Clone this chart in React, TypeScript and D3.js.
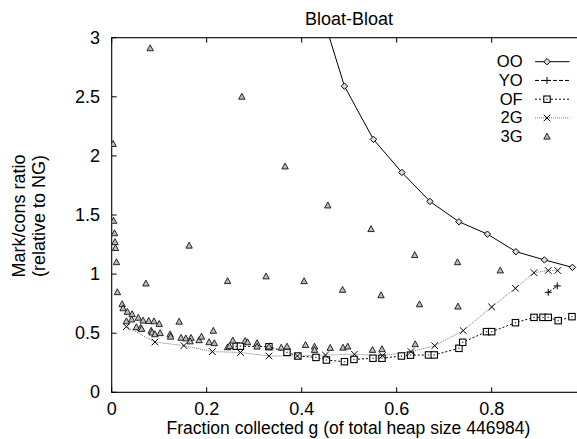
import React from 'react';
import * as d3 from 'd3';

const W = 577;
const H = 439;

const xTicks = [0, 0.2, 0.4, 0.6, 0.8, 1];
const xTickLabels = [0, 0.2, 0.4, 0.6, 0.8];
const yTicks = [0, 0.5, 1, 1.5, 2, 2.5, 3];
const seriesNames = ['OO', 'YO', 'OF', '2G', '3G'];
const title = 'Bloat-Bloat';
const xLabel = 'Fraction collected g (of total heap size 446984)';
const yLabel1 = 'Mark/cons ratio';
const yLabel2 = '(relative to NG)';

const ooX = [0.43, 0.49, 0.551, 0.611, 0.67, 0.731, 0.791, 0.851, 0.911, 0.97];
const ooY = [3.37, 2.59, 2.14, 1.86, 1.615, 1.443, 1.338, 1.19, 1.12, 1.057];

const yoX = [0.919, 0.938];
const yoY = [0.846, 0.9];

const ofX = [0.262, 0.271, 0.331, 0.369, 0.392, 0.43, 0.452, 0.49, 0.51, 0.55, 0.569, 0.61, 0.629, 0.667, 0.679, 0.731, 0.739, 0.789, 0.8, 0.85, 0.889, 0.908, 0.919, 0.94, 0.969];
const ofY = [0.39, 0.39, 0.386, 0.338, 0.307, 0.295, 0.273, 0.259, 0.278, 0.288, 0.288, 0.307, 0.314, 0.316, 0.316, 0.372, 0.423, 0.513, 0.513, 0.589, 0.634, 0.634, 0.634, 0.606, 0.64];

const g2X = [0.031, 0.091, 0.152, 0.212, 0.271, 0.331, 0.391, 0.45, 0.511, 0.57, 0.63, 0.68, 0.74, 0.8, 0.85, 0.889, 0.919, 0.939];
const g2Y = [0.555, 0.425, 0.395, 0.344, 0.337, 0.307, 0.307, 0.315, 0.322, 0.31, 0.344, 0.394, 0.522, 0.722, 0.88, 1.012, 1.03, 1.03];

const g3X = [
  0.003, 0.004, 0.006, 0.007, 0.008, 0.01, 0.012,
  0.022, 0.024, 0.033, 0.043, 0.056, 0.066, 0.078, 0.089, 0.1,
  0.031, 0.042, 0.052, 0.061, 0.063, 0.083, 0.085, 0.091, 0.102, 0.123, 0.124, 0.142, 0.146, 0.156, 0.167, 0.165, 0.184, 0.189, 0.205, 0.214, 0.216,
  0.072, 0.081, 0.163, 0.244, 0.274, 0.325, 0.365, 0.405, 0.455, 0.486, 0.546, 0.567, 0.638, 0.648, 0.728, 0.729, 0.818,
  0.244, 0.248, 0.255, 0.281, 0.286, 0.306, 0.306, 0.331, 0.357, 0.369, 0.408, 0.427, 0.427, 0.46, 0.487, 0.497, 0.549, 0.569, 0.639,
];
const g3Y = [
  2.1, 1.45, 1.345, 1.27, 1.22, 1.1, 0.846,
  0.745, 0.71, 0.68, 0.66, 0.63, 0.606, 0.603, 0.6, 0.578,
  0.6, 0.615, 0.55, 0.545, 0.535, 0.52, 0.505, 0.49, 0.5, 0.49, 0.47, 0.597, 0.46, 0.455, 0.46, 0.43, 0.44, 0.47, 0.423, 0.52, 0.415,
  0.92, 2.91, 1.24, 0.94, 2.5, 0.98, 1.91, 0.94, 1.58, 0.866, 1.38, 0.82, 1.16, 0.744, 1.1, 0.725, 1.03,
  0.38, 0.39, 0.437, 0.434, 0.423, 0.415, 0.386, 0.386, 0.377, 0.386, 0.4, 0.386, 0.358, 0.375, 0.377, 0.386, 0.358, 0.364, 0.406,
];

const FONT = '"Liberation Sans", Arial, Helvetica, sans-serif';

type Pt = [number, number];
const zip = (xs: number[], ys: number[]): Pt[] => xs.map((x, i) => [x, ys[i]]);

function Marker({ kind, x, y }: { kind: string; x: number; y: number }) {
  if (kind === 'diamond') {
    const r = 3.2;
    return <path d={`M${x},${y - r}L${x + r},${y}L${x},${y + r}L${x - r},${y}Z`} fill="#ddd" stroke="#000" strokeWidth={1} />;
  }
  if (kind === 'plus') {
    const r = 3.5;
    return <path d={`M${x - r},${y}H${x + r}M${x},${y - r}V${y + r}`} stroke="#000" strokeWidth={1} fill="none" />;
  }
  if (kind === 'square') {
    const r = 3.2;
    return (
      <g>
        <rect x={x - r} y={y - r} width={2 * r} height={2 * r} fill="#fff" stroke="#000" strokeWidth={1.1} />
        <rect x={x - 0.7} y={y - 0.7} width={1.4} height={1.4} fill="#555" />
      </g>
    );
  }
  if (kind === 'cross') {
    const r = 3.3;
    return <path d={`M${x - r},${y - r}L${x + r},${y + r}M${x - r},${y + r}L${x + r},${y - r}`} stroke="#000" strokeWidth={1} fill="none" />;
  }
  const r = 3.2;
  return <path d={`M${x},${y - 3.5}L${x + r},${y + 2.4}L${x - r},${y + 2.4}Z`} fill="#bbb" stroke="#111" strokeWidth={0.9} />;
}

export default function App() {
  const left = 111.7;
  const right = 586.7;
  const top = 37.7;
  const bottom = 392.3;
  const x = d3.scaleLinear().domain([0, 1]).range([left, right]);
  const y = d3.scaleLinear().domain([0, 3]).range([bottom, top]);
  const line = d3.line<Pt>().x((d) => x(d[0])).y((d) => y(d[1]));

  const series = [
    { name: seriesNames[0], pts: zip(ooX, ooY), marker: 'diamond', dash: undefined as string | undefined, color: '#000', lw: 1 },
    { name: seriesNames[1], pts: zip(yoX, yoY), marker: 'plus', dash: '4,2', color: '#000', lw: 1 },
    { name: seriesNames[2], pts: zip(ofX, ofY), marker: 'square', dash: '2,2', color: '#000', lw: 1 },
    { name: seriesNames[3], pts: zip(g2X, g2Y), marker: 'cross', dash: '1,1', color: '#777', lw: 1 },
    { name: seriesNames[4], pts: zip(g3X, g3Y), marker: 'triangle', dash: null as any, color: '#000', lw: 1 },
  ];

  const tickLen = 5;
  const fs = 18;
  const legendFs = 16.6;
  const legendTextX = 522.7;
  const legendY0 = 61.7;
  const legendDy = 18.75;
  const sampleX1 = 535;
  const sampleX2 = 569.5;
  const sampleMarkerX = 547;

  return (
    <svg width={W} height={H} style={{ position: 'absolute', left: 0, top: 0, background: '#fff' }} fontFamily={FONT}>
      <defs>
        <clipPath id="plotclip">
          <rect x={left} y={top} width={right - left} height={bottom - top} />
        </clipPath>
      </defs>
      <rect x={0} y={0} width={W} height={H} fill="#fff" />

      {/* ticks */}
      {yTicks.map((t) => (
        <g key={'y' + t}>
          <line x1={left} x2={left + tickLen} y1={y(t)} y2={y(t)} stroke="#000" />
          <line x1={right} x2={right - tickLen} y1={y(t)} y2={y(t)} stroke="#000" />
          <text x={100} y={y(t)} fontSize={fs} textAnchor="end" dominantBaseline="central">{String(t)}</text>
        </g>
      ))}
      {xTicks.map((t) => (
        <g key={'x' + t}>
          <line x1={x(t)} x2={x(t)} y1={bottom} y2={bottom - tickLen} stroke="#000" />
          <line x1={x(t)} x2={x(t)} y1={top} y2={top + tickLen} stroke="#000" />
        </g>
      ))}
      {xTickLabels.map((t) => (
        <text key={'xl' + t} x={x(t)} y={414.5} fontSize={fs} textAnchor="middle">{String(t)}</text>
      ))}

      {/* frame */}
      <rect x={left} y={top} width={right - left} height={bottom - top} fill="none" stroke="#000" strokeWidth={1.1} />

      {/* data */}
      <g clipPath="url(#plotclip)">
        {series.map((s) =>
          s.dash === null ? null : (
            <path key={'l' + s.name} d={line(s.pts) || ''} fill="none" stroke={s.color} strokeWidth={s.lw} strokeDasharray={s.dash} />
          )
        )}
        {series.map((s) => (
          <g key={'m' + s.name}>
            {s.pts.map((p, i) => (
              <Marker key={i} kind={s.marker} x={x(p[0])} y={y(p[1])} />
            ))}
          </g>
        ))}
      </g>

      {/* legend */}
      {series.map((s, i) => {
        const ly = legendY0 + i * legendDy;
        return (
          <g key={'lg' + s.name}>
            <text x={legendTextX} y={ly} fontSize={legendFs} textAnchor="end" dominantBaseline="central">{s.name}</text>
            {s.dash !== null && (
              <line x1={sampleX1} x2={sampleX2} y1={ly} y2={ly} stroke={s.color} strokeWidth={s.lw} strokeDasharray={s.dash} />
            )}
            <Marker kind={s.marker} x={sampleMarkerX} y={ly} />
          </g>
        );
      })}

      {/* titles */}
      <text x={349} y={25} fontSize={fs} textAnchor="middle">{title}</text>
      <text x={348.5} y={434} fontSize={17.5} textAnchor="middle">{xLabel}</text>
      <text transform="translate(19,216) rotate(-90)" fontSize={fs} textAnchor="middle" dominantBaseline="central">{yLabel1}</text>
      <text transform="translate(38.6,216) rotate(-90)" fontSize={fs} textAnchor="middle" dominantBaseline="central">{yLabel2}</text>
    </svg>
  );
}
